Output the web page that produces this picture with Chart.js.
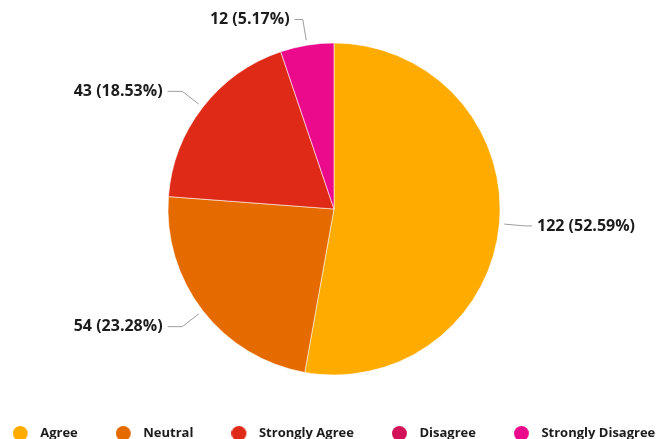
<!DOCTYPE html>
<html>
<head>
<meta charset="utf-8">
<script src="https://cdn.jsdelivr.net/npm/chart.js@4/dist/chart.umd.min.js"></script>
<style>
  html, body { margin: 0; padding: 0; background: #ffffff; overflow: hidden; }
  #wrap { width: 660px; height: 439px; overflow: hidden; position: relative; }
  /* the canvas is a little wider than the frame so the legend fits on one row */
  canvas { display: block; position: absolute; left: -40px; top: 0; }
</style>
</head>
<body>
<div id="wrap"><canvas id="chart" width="740" height="450"></canvas></div>
<script>
// Survey responses
const categories = ['Agree', 'Neutral', 'Strongly Agree', 'Disagree', 'Strongly Disagree'];
const responses = [122, 54, 43, 0, 12];
const shareLabels = ['52.59%', '23.28%', '18.53%', '0.00%', '5.17%'];
const sliceColors = ['#FFAB00', '#E56B00', '#E02A18', '#D3125A', '#EC0A8C'];

const FONT = '"Open Sans", "Liberation Sans", sans-serif';

// Legend marker: a round dot on a slightly wider canvas so the text sits further away
function makeDot(color) {
  const c = document.createElement('canvas');
  c.width = 21; c.height = 15;
  const g = c.getContext('2d');
  g.fillStyle = color;
  g.beginPath();
  g.arc(7.5, 7.5, 7.5, 0, Math.PI * 2);
  g.fill();
  return c;
}

// Outside labels with elbow leader lines
const outsideLabels = {
  id: 'outsideLabels',
  afterDatasetsDraw(chart) {
    const ctx = chart.ctx;
    const meta = chart.getDatasetMeta(0);
    const values = chart.data.datasets[0].data;
    ctx.save();
    ctx.font = 'bold 16px ' + FONT;
    ctx.textBaseline = 'middle';
    meta.data.forEach((arc, i) => {
      if (!values[i]) return;
      const p = arc.getProps(['x', 'y', 'startAngle', 'endAngle', 'outerRadius'], true);
      const mid = (p.startAngle + p.endAngle) / 2;
      const cx = Math.cos(mid), cy = Math.sin(mid);
      const side = cx >= 0 ? 1 : -1;
      const x1 = p.x + (p.outerRadius + 5) * cx, y1 = p.y + (p.outerRadius + 5) * cy;
      const x2 = p.x + (p.outerRadius + 26) * cx, y2 = p.y + (p.outerRadius + 26) * cy;
      const x3 = x2 + side * (5 + 10 * Math.abs(Math.sin(2 * mid)));
      ctx.strokeStyle = '#9d9d9d';
      ctx.lineWidth = 1;
      ctx.beginPath();
      ctx.moveTo(x1, y1);
      ctx.lineTo(x2, y2);
      ctx.lineTo(x3, y2);
      ctx.stroke();
      ctx.fillStyle = '#1c1c1c';
      ctx.textAlign = side > 0 ? 'left' : 'right';
      ctx.fillText(values[i] + ' (' + shareLabels[i] + ')', x3 + side * 5, y2);
    });
    ctx.restore();
  }
};

new Chart(document.getElementById('chart'), {
  type: 'pie',
  data: {
    labels: categories,
    datasets: [{
      data: responses,
      backgroundColor: sliceColors,
      borderColor: 'rgba(255,255,255,0.55)',
      borderWidth: 1
    }]
  },
  options: {
    responsive: false,
    animation: false,
    radius: 166,
    layout: { padding: { top: 29, left: 8, right: 0, bottom: 0 } },
    plugins: {
      tooltip: { enabled: false },
      legend: {
        position: 'bottom',
        labels: {
          usePointStyle: true,
          pointStyleWidth: 21,
          boxHeight: 14,
          padding: 38,
          color: '#1c1c1c',
          font: { family: FONT, size: 13, weight: 'bold' },
          generateLabels(chart) {
            const items = Chart.overrides.pie.plugins.legend.labels.generateLabels(chart);
            items.forEach((it, i) => {
              it.pointStyle = makeDot(sliceColors[i]);
              it.hidden = false;
            });
            return items;
          }
        }
      }
    }
  },
  plugins: [outsideLabels]
});
</script>
</body>
</html>
